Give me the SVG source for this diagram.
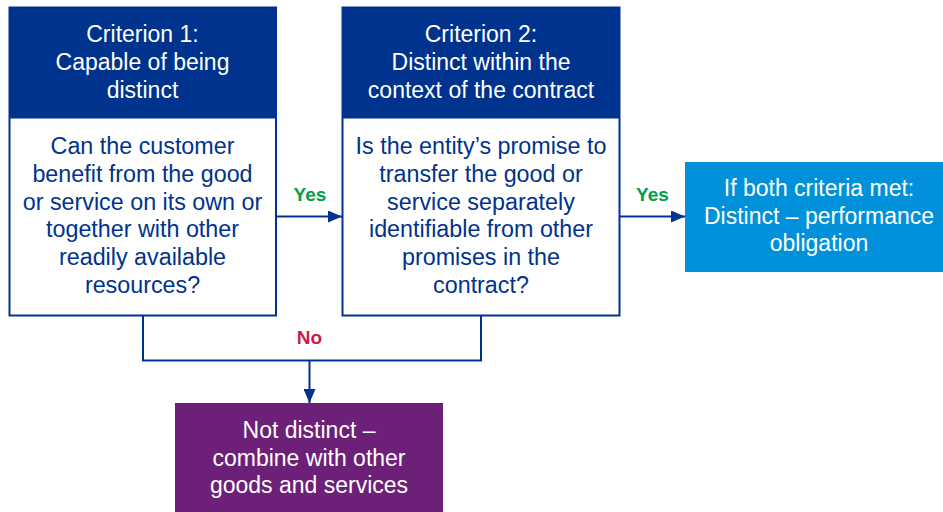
<svg xmlns="http://www.w3.org/2000/svg" width="943" height="512" viewBox="0 0 943 512">
<style>
text{font-family:"Liberation Sans",Arial,sans-serif;text-anchor:middle}
.h{font-size:23px;fill:#fff}
.b{font-size:23.3px;fill:#00338D}
.w{font-size:23px;fill:#fff}
.lbl{font-size:19px;font-weight:bold}
.box{fill:#fff;stroke:#00338D;stroke-width:2}
.hdr{fill:#00338D}
.con{fill:none;stroke:#00338D;stroke-width:2}
</style>
<defs>
<marker id="ah" viewBox="0 0 14 12" refX="14" refY="6" markerWidth="14" markerHeight="12" markerUnits="userSpaceOnUse" orient="auto">
<path d="M0,0 L14,6 L0,12 Z" fill="#00338D"/>
</marker>
</defs>
<g id="connectors">
<path class="con" d="M276,216.5 H342" marker-end="url(#ah)"/>
<path class="con" d="M620,216.5 H685" marker-end="url(#ah)"/>
<path class="con" d="M143,316 V360.5 H481 V316"/>
<path class="con" d="M309.5,360.5 V403" marker-end="url(#ah)"/>
<text class="lbl" x="310" y="201" fill="#00A04B">Yes</text>
<text class="lbl" x="652.5" y="201" fill="#00A04B">Yes</text>
<text class="lbl" x="309.5" y="344" fill="#C41E4A">No</text>
</g>
<g id="criterion1">
<rect class="box" x="9.5" y="7.5" width="266.5" height="308"/>
<rect class="hdr" x="9.5" y="7.5" width="266.5" height="111"/>
<text class="h" x="142.5" y="42">Criterion 1:</text>
<text class="h" x="142.5" y="70">Capable of being</text>
<text class="h" x="142.5" y="97.5">distinct</text>
<text class="b" x="142.5" y="153.5">Can the customer</text>
<text class="b" x="142.5" y="181.5">benefit from the good</text>
<text class="b" x="142.5" y="209.5">or service on its own or</text>
<text class="b" x="142.5" y="237">together with other</text>
<text class="b" x="142.5" y="265">readily available</text>
<text class="b" x="142.5" y="292.5">resources?</text>
</g>
<g id="criterion2">
<rect class="box" x="342.5" y="7.5" width="277" height="308"/>
<rect class="hdr" x="342.5" y="7.5" width="277" height="111"/>
<text class="h" x="481" y="42">Criterion 2:</text>
<text class="h" x="481" y="70">Distinct within the</text>
<text class="h" x="481" y="97.5">context of the contract</text>
<text class="b" x="481" y="153.5">Is the entity’s promise to</text>
<text class="b" x="481" y="181.5">transfer the good or</text>
<text class="b" x="481" y="209.5">service separately</text>
<text class="b" x="481" y="237">identifiable from other</text>
<text class="b" x="481" y="265">promises in the</text>
<text class="b" x="481" y="292.5">contract?</text>
</g>
<g id="distinct">
<rect x="685" y="162" width="268" height="110" fill="#0091DA"/>
<text class="w" x="819" y="195.5">If both criteria met:</text>
<text class="w" x="819" y="223.5">Distinct – performance</text>
<text class="w" x="819" y="251">obligation</text>
</g>
<g id="notdistinct">
<rect x="175" y="403" width="268" height="115" fill="#6D2077"/>
<text class="w" x="309" y="437.5">Not distinct –</text>
<text class="w" x="309" y="465.5">combine with other</text>
<text class="w" x="309" y="493">goods and services</text>
</g>
</svg>
